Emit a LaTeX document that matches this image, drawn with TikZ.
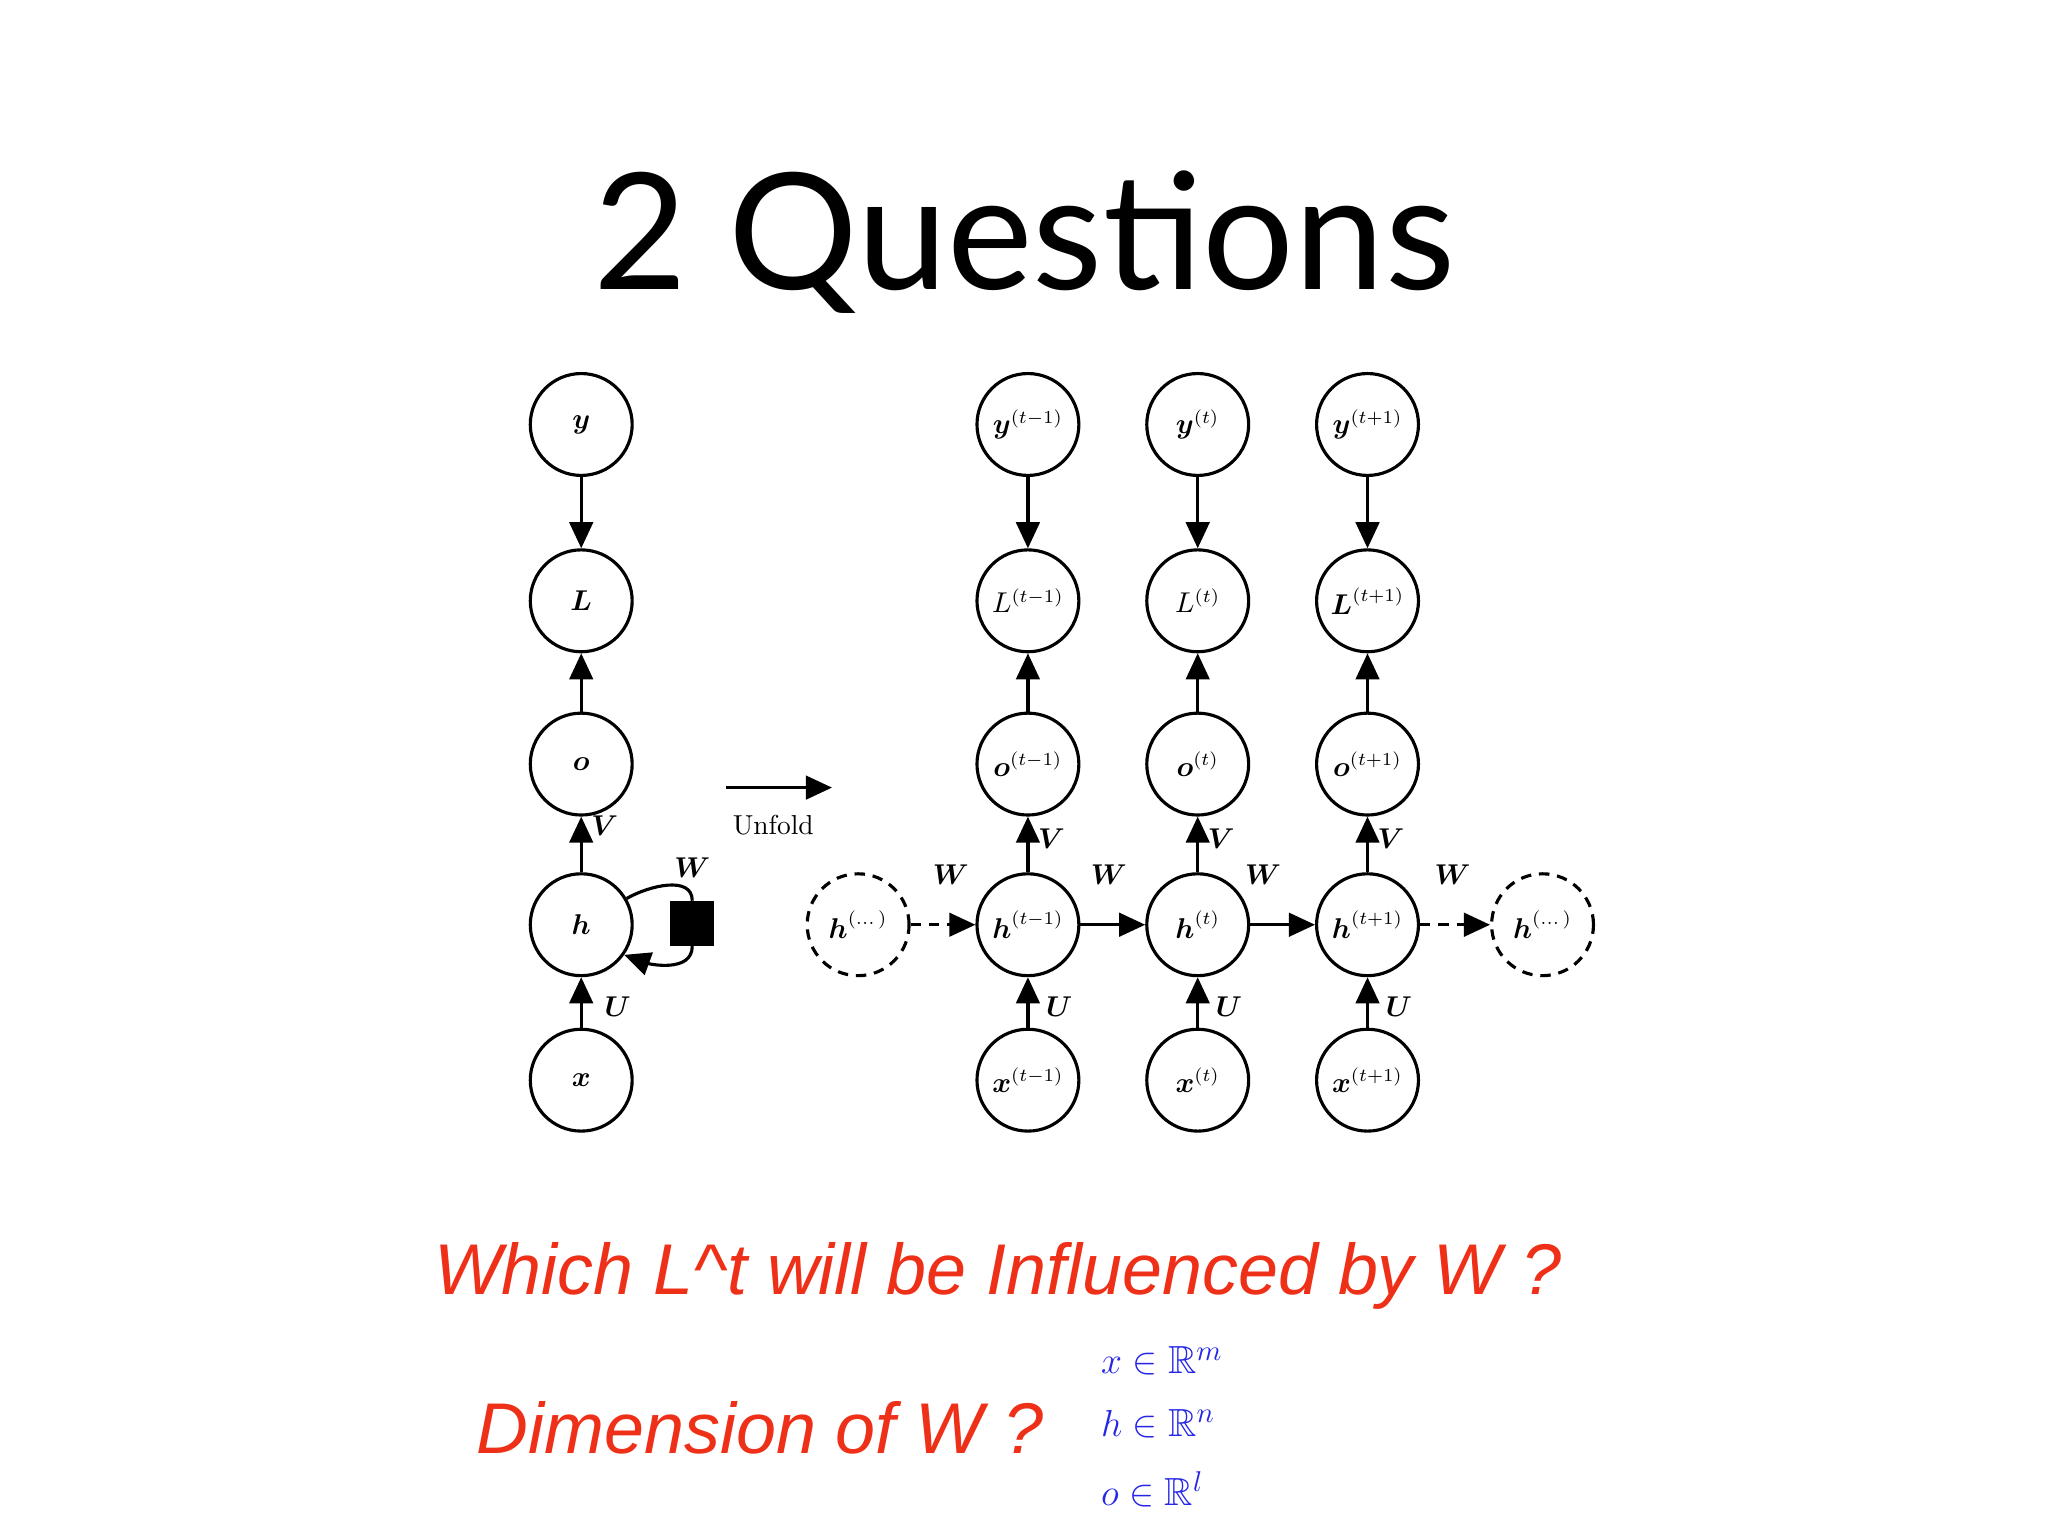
\documentclass[tikz,border=0pt]{standalone}
\usepackage{amsmath,amssymb}
\usepackage{fontspec}
\setmainfont{Lato}
\newfontfamily\rmlm{Latin Modern Roman}
\newfontfamily\redfont{Liberation Sans}
\usetikzlibrary{arrows.meta}
\begin{document}
\begin{tikzpicture}[x=0.5pt,y=-0.5pt,
  nd/.style={circle,draw,line width=1.2pt,minimum size=39pt,inner sep=0pt,font=\fontsize{10.5}{12}\selectfont},
  dnd/.style={nd,dashed,dash pattern=on 4pt off 3pt},
  con/.style={line width=1.2pt,-{Triangle[length=10pt,width=9pt]}},
  lab/.style={font=\fontsize{10.5}{12}\selectfont},
  red/.style={text=redc,font=\redfont\itshape\fontsize{27.5}{32}\selectfont},
  blu/.style={text=bluc,font=\fontsize{15}{17}\selectfont,anchor=west}]
\definecolor{redc}{HTML}{EE3018}
\definecolor{bluc}{HTML}{2626E6}
\useasboundingbox (0,0) rectangle (1568,1176);
\node[font=\fontsize{62}{70}\selectfont] (title) at (784,185) {2 Questions};
\node[nd] (y) at (445,325) {$\boldsymbol{y}$};
\node[nd] (L) at (445,460) {$\boldsymbol{L}$};
\node[nd] (o) at (445,585) {$\boldsymbol{o}$};
\node[nd] (h) at (445,708) {$\boldsymbol{h}$};
\node[nd] (x) at (445,827) {$\boldsymbol{x}$};
\node[fill=black,minimum size=17pt,inner sep=0pt] (sq) at (530,707) {};
\draw[con] (y) -- (L);
\draw[con] (o) -- (L);
\draw[con] (h) -- (o);
\draw[con] (x) -- (h);
\node[lab] (vl) at (463,632) {$\boldsymbol{V}$};
\node[lab] (ul) at (473,771) {$\boldsymbol{U}$};
\draw[line width=1.2pt] (h.30) to[out=30,in=90] (sq.north);
\draw[con] (sq.south) to[out=-90,in=-20] (h.-35);
\node[lab] (wl) at (530,664) {$\boldsymbol{W}$};
\coordinate (ua) at (556,603);
\coordinate (ub) at (637,603);
\draw[con] (ua) -- (ub);
\node[font=\rmlm\fontsize{10.5}{12}\selectfont] (unf) at (592,632) {Unfold};
\foreach \n/\xx/\s/\Ls in {a/787/t-1/{L^{(t-1)}}, b/917/t/{L^{(t)}}, c/1047/t+1/{\boldsymbol{L}^{(t+1)}}}{
  \node[nd] (y\n) at (\xx,325) {$\boldsymbol{y}^{(\s)}$};
  \node[nd] (L\n) at (\xx,460) {$\Ls$};
  \node[nd] (o\n) at (\xx,585) {$\boldsymbol{o}^{(\s)}$};
  \node[nd] (h\n) at (\xx,708) {$\boldsymbol{h}^{(\s)}$};
  \node[nd] (x\n) at (\xx,827) {$\boldsymbol{x}^{(\s)}$};
  \draw[con] (y\n) -- (L\n);
  \draw[con] (o\n) -- (L\n);
  \draw[con] (h\n) -- (o\n);
  \draw[con] (x\n) -- (h\n);
  \node[lab] (v\n) at (\xx+18,642) {$\boldsymbol{V}$};
  \node[lab] (u\n) at (\xx+24,771) {$\boldsymbol{U}$};
}
\node[dnd] (hl) at (657,708) {$\boldsymbol{h}^{(\dots)}$};
\node[dnd] (hr) at (1181,708) {$\boldsymbol{h}^{(\dots)}$};
\draw[con,dashed,dash pattern=on 4pt off 3pt] (hl) -- (ha);
\draw[con] (ha) -- (hb);
\draw[con] (hb) -- (hc);
\draw[con,dashed,dash pattern=on 4pt off 3pt] (hc) -- (hr);
\node[lab] (w1) at (728,670) {$\boldsymbol{W}$};
\node[lab] (w2) at (849,670) {$\boldsymbol{W}$};
\node[lab] (w3) at (967,670) {$\boldsymbol{W}$};
\node[lab] (w4) at (1112,670) {$\boldsymbol{W}$};
\node[red] (q1) at (764,977) {Which L\^{}t will be Influenced by W ?};
\node[red] (q2) at (582,1093) {Dimension of W ?};
\node[blu] (m1) at (836,1042) {$x\in\mathbb{R}^m$};
\node[blu] (m2) at (836,1090) {$h\in\mathbb{R}^n$};
\node[blu] (m3) at (836,1140) {$o\in\mathbb{R}^l$};
\end{tikzpicture}
\end{document}
